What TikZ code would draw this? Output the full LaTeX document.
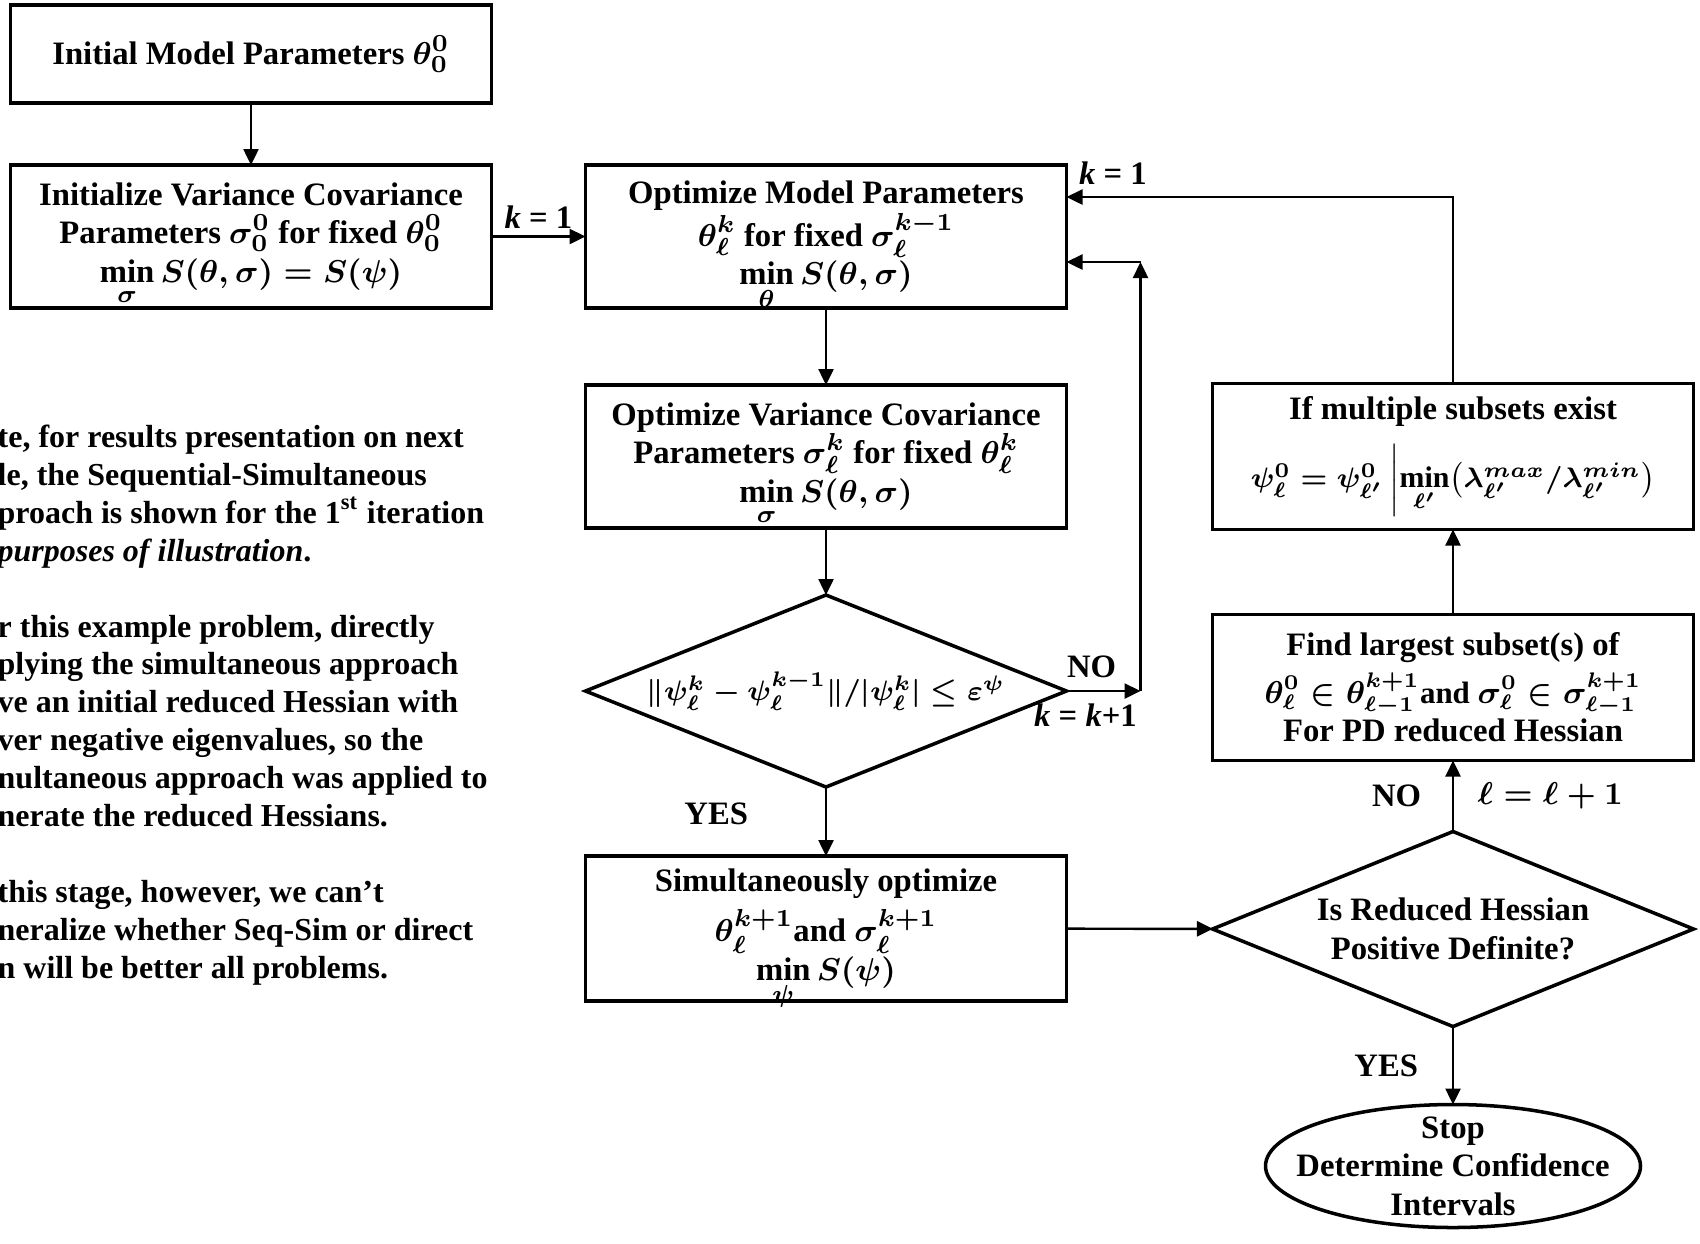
\documentclass[tikz,border=0pt]{standalone}
\usepackage{amsmath,amssymb}
\usepackage{fontspec}
\setmainfont{Liberation Serif}
\usetikzlibrary{arrows.meta,positioning,calc,shapes.geometric}

\begin{document}
\begin{tikzpicture}[
  font=\fontsize{9.3}{11}\selectfont\bfseries\boldmath,
  >={Triangle[length=1.6mm,width=1.5mm]},
  node distance=7mm,
  stepbox/.style={
    draw, line width=1pt, align=center, outer sep=0pt,
    minimum width=48.1mm, minimum height=14.3mm, inner sep=2pt
  },
  decision/.style={stepbox, diamond, aspect=2.5, minimum height=19.2mm, inner sep=0pt},
  terminal/.style={stepbox, ellipse, minimum width=37.5mm, minimum height=12.3mm, inner sep=0pt},
  flow/.style={->, line width=0.7pt},
  notetext/.style={font=\fontsize{9.1}{10.8}\selectfont\bfseries, align=left, inner sep=0pt}
]
\useasboundingbox (0,0) rectangle (17,-12.43);

% ---- left column: initialisation ----
\node[stepbox, minimum height=9.8mm] (init) at (2.51,-0.54) {Initial Model Parameters $\theta_0^0$};
\node[stepbox, below=6.2mm of init] (initvc) {Initialize Variance Covariance\\Parameters $\sigma_0^0$ for fixed $\theta_0^0$\\$\smash[b]{\min\limits_{\sigma}}\,S(\theta,\sigma) = S(\psi)$};

% ---- middle column: sequential loop ----
\node[stepbox, right=9.4mm of initvc] (opt) {Optimize Model Parameters\\$\theta_\ell^k$ for fixed $\sigma_\ell^{k-1}$\\$\smash[b]{\min\limits_{\theta}}\,S(\theta,\sigma)$};
\node[stepbox, below=7.7mm of opt] (optvc) {Optimize Variance Covariance\\Parameters $\sigma_\ell^k$ for fixed $\theta_\ell^k$\\$\smash[b]{\min\limits_{\sigma}}\,S(\theta,\sigma)$};
\node[decision, below=6.7mm of optvc] (conv) {\makebox[0pt]{\fontsize{8.4}{11}\selectfont$\|\psi_\ell^k - \psi_\ell^{k-1}\|/|\psi_\ell^k| \le \varepsilon^{\psi}$}};
\node[stepbox, minimum height=14.5mm, below=6.9mm of conv] (simopt) {Simultaneously optimize\\[2pt]$\theta_\ell^{k+1}$and $\sigma_\ell^{k+1}$\\$\smash[b]{\min\limits_{\psi}}\,S(\psi)$};

% ---- right column: reduced Hessian check ----
\node[stepbox, minimum height=14.6mm, right=14.6mm of optvc] (multi) {If multiple subsets exist\\[4pt]{\fontsize{8.5}{11}\selectfont$\psi_\ell^0 = \psi_{\ell'}^0\,\bigg|\smash[b]{\min\limits_{\ell'}}\bigl(\lambda_{\ell'}^{max}/\lambda_{\ell'}^{min}\bigr)$}};
\node[stepbox, minimum height=14.6mm, below=8.5mm of multi] (subset) {Find largest subset(s) of\\[2.5pt]{\fontsize{8.8}{11}\selectfont$\theta_\ell^0 \in \theta_{\ell-1}^{k+1}$and $\sigma_\ell^0 \in \sigma_{\ell-1}^{k+1}$}\\For PD reduced Hessian};
\node[decision, minimum height=19.5mm, below=7.1mm of subset] (pd) {Is Reduced Hessian\\Positive Definite?};
\node[terminal, below=7.8mm of pd,
      label={[align=center, inner sep=0pt]center:Stop\\Determine Confidence\\Intervals}] (stop) {};

% ---- note on the left ----
\node[notetext, anchor=north west] (note) at (-0.03,-4.24) {te, for results presentation on next\\le, the Sequential-Simultaneous\\proach is shown for the 1\textsuperscript{st} iteration\\\textit{purposes of illustration}.\\[10.8pt]r this example problem, directly\\plying the simultaneous approach\\ve an initial reduced Hessian with\\ver negative eigenvalues, so the\\nultaneous approach was applied to\\nerate the reduced Hessians.\\[10.8pt]this stage, however, we can’t\\neralize whether Seq-Sim or direct\\n will be better all problems.};

% ---- loop points ----
\coordinate[right=7.4mm of conv.east] (loop);
\coordinate (optin) at ($(opt.east)+(0,-2.55mm)$);
\coordinate (optback) at ($(opt.east)+(0,3.95mm)$);
\coordinate (looptop) at (loop |- optin);

% ---- connectors ----
\draw[flow] (init) -- (initvc);
\draw[flow] (initvc) -- node[above, inner sep=2pt] {\textit{k} = 1} (opt);
\draw[flow] (opt) -- (optvc);
\draw[flow] (optvc) -- (conv);
\draw[flow] (conv) -- node[left=6.5mm, yshift=0.8mm] {YES} (simopt);
\draw[flow] (conv) -- node[above, xshift=-1.2mm] {NO} node[below, xshift=-1.8mm] {\textit{k} = \textit{k}+1} (loop);
\draw[flow] (loop) -- (looptop);
\draw[flow] (looptop) -- (optin);
\draw[flow] (multi) |- node[above, pos=0.94] {\textit{k} = 1} (optback);
\draw[flow] (subset) -- (multi);
\draw[flow] (pd) -- node[left=1.9mm] {NO} node[right=1.2mm] {$\ell = \ell + 1$} (subset);
\draw[flow] (simopt) -- (pd);
\draw[flow] (pd) -- node[left=2.2mm] {YES} (stop);

\end{tikzpicture}
\end{document}
